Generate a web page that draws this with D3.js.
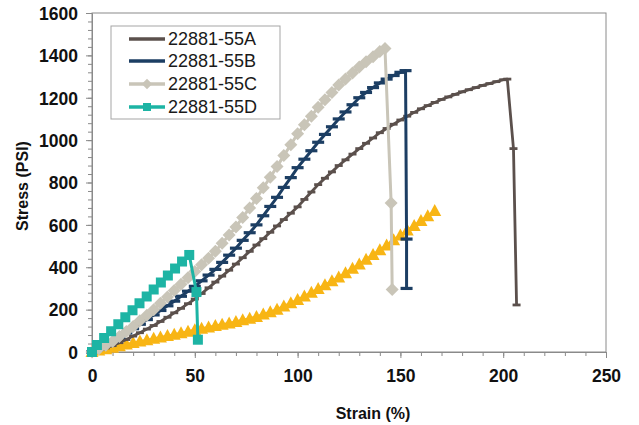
<!DOCTYPE html>
<html><head><meta charset="utf-8">
<script src="https://cdn.jsdelivr.net/npm/d3@7"></script>
<style>body{margin:0;background:#fff}svg{display:block}</style>
</head><body>
<svg id="chart" width="639" height="425"></svg>
<script>
// ---------- data ----------
const seriesNames = ["22881-55A", "22881-55B", "22881-55C", "22881-55D"];
const xTickLabels = [0, 50, 100, 150, 200, 250];
const yTickLabels = [0, 200, 400, 600, 800, 1000, 1200, 1400, 1600];

const strainGrid = [0,3.3,6.7,10,13.3,16.7,20,23.3,26.7,30,33.3,36.7,40,43.3,46.7,50,53.3,56.7,60,63.3,66.7,70,73.3,76.7,80,83.3,86.7,90,93.3,96.7,100,103.3,106.7,110,113.3,116.7,120,123.3,126.7,130,133.3,136.7,140,143.3,146.7,150,153.3,156.7,160,163.3,166.7,170,173.3,176.7,180,183.3,186.7,190,193.3,196.7,200];

const stressA = [0,9,19,30,44,59,75,91,108,125,144,164,185,206,228,250,276,303,330,358,386,415,445,475,505,535,565,595,625,655,685,720,755,790,820,850,880,907,934,960,985,1010,1035,1055,1075,1095,1113,1131,1148,1163,1178,1192,1204,1216,1228,1238,1248,1258,1267,1276,1285];
const tailA = [[202,1288],[205,960],[206.5,222]];

const stressB = [0,15,32,50,70,90,110,131,153,175,196,218,240,263,287,310,336,363,390,423,457,490,527,563,600,643,687,730,777,823,870,910,950,990,1027,1063,1100,1133,1167,1200,1225,1248,1270,1288,1305,1320];
const tailB = [[152.5,1328],[153,533],[153,300]];

const stressC = [0,15,32,50,73,97,120,147,173,200,230,260,290,320,350,380,412,443,475,513,552,590,635,680,725,775,825,875,927,978,1030,1072,1113,1155,1190,1225,1260,1288,1317,1345,1370,1394,1418];
const tailC = [[142.5,1432],[145.5,703],[146,295]];

const strainD = [0,2.4,5.9,9.3,12.8,16.2,19.7,23.1,26.6,30,33.5,36.9,40.4,43.8,47.3,50.8,51.5];
const stressD = [0,33,66,98,131,164,197,230,262,295,328,361,394,427,458,283,58];

const stressE = [0,7,13,20,27,35,42,49,55,62,69,75,82,89,96,103,110,116,123,129,135,142,150,157,165,177,188,200,215,230,245,262,280,297,315,334,352,372,393,413,435,458,480,503,527,550,573,595,618,641,665];

// ---------- build ----------
const x = d3.scaleLinear().domain([0, 250]).range([92, 606]);
const y = d3.scaleLinear().domain([0, 1600]).range([352, 13]);
const svg = d3.select("#chart");
const FONT = "Liberation Sans, Arial, Helvetica, sans-serif";

const fromGrid = (vals, tail) => vals.map((v, i) => [strainGrid[i], v]).concat(tail || []);
const series = [
  {name: null, pts: fromGrid(stressE), color: "#f8b514", w: 3, mk: "tri"},
  {name: seriesNames[0], pts: fromGrid(stressA, tailA), color: "#5b504c", w: 2.8, mk: "dashS"},
  {name: seriesNames[1], pts: fromGrid(stressB, tailB), color: "#1c3e63", w: 3, mk: "dashL"},
  {name: seriesNames[2], pts: fromGrid(stressC, tailC), color: "#c9c5b8", w: 3, mk: "diamond"},
  {name: seriesNames[3], pts: strainD.map((s, i) => [s, stressD[i]]), color: "#1db4a4", w: 3, mk: "square"}
];

const markerPath = {
  tri: "M0,-7L6.5,5L-6.5,5Z",
  dashS: "M-4,-1.4H4V1.4H-4Z",
  dashL: "M-6,-1.6H6V1.6H-6Z",
  diamond: "M0,-6.5L6.5,0L0,6.5L-6.5,0Z",
  square: "M-5,-5H5V5H-5Z"
};

// plot frame
svg.append("rect").attr("x", x(0)).attr("y", y(1600))
  .attr("width", x(250) - x(0)).attr("height", y(0) - y(1600))
  .attr("fill", "none").attr("stroke", "#8a8a8a").attr("stroke-width", 1);

// axes
const yMinor = d3.axisLeft(y).tickValues(d3.range(0, 1601, 40)).tickSize(4).tickFormat("");
svg.append("g").attr("transform", `translate(${x(0)},0)`).call(yMinor)
  .call(g => { g.selectAll("line").attr("stroke", "#8a8a8a"); g.select(".domain").attr("stroke", "#8a8a8a"); });
const yAxis = d3.axisLeft(y).tickValues(yTickLabels).tickSize(6).tickPadding(8).tickFormat(d3.format("d"));
svg.append("g").attr("transform", `translate(${x(0)},0)`).call(yAxis)
  .call(g => {
    g.select(".domain").remove();
    g.selectAll("line").attr("stroke", "#8a8a8a");
    g.selectAll("text").attr("font-family", FONT)
      .attr("font-weight", "bold").attr("font-size", 17.5).attr("fill", "#111").attr("dy", "0.36em");
  });

const xMinor = d3.axisBottom(x).tickValues(d3.range(0, 251, 10)).tickSize(4).tickFormat("");
svg.append("g").attr("transform", `translate(0,${y(0)})`).call(xMinor)
  .call(g => { g.selectAll("line").attr("stroke", "#8a8a8a"); g.select(".domain").attr("stroke", "#8a8a8a"); });
const xAxis = d3.axisBottom(x).tickValues(xTickLabels).tickSize(6).tickPadding(12).tickFormat(d3.format("d"));
svg.append("g").attr("transform", `translate(0,${y(0)})`).call(xAxis)
  .call(g => {
    g.select(".domain").remove();
    g.selectAll("line").attr("stroke", "#8a8a8a");
    g.selectAll("text").attr("font-family", FONT)
      .attr("font-weight", "bold").attr("font-size", 17.5).attr("fill", "#111");
  });

// axis titles
svg.append("text").attr("x", 373).attr("y", 419).attr("text-anchor", "middle")
  .attr("font-family", FONT).attr("font-weight", "bold")
  .attr("font-size", 16).attr("fill", "#111").text("Strain (%)");
svg.append("text").attr("transform", "translate(28,186) rotate(-90)").attr("text-anchor", "middle")
  .attr("font-family", FONT).attr("font-weight", "bold")
  .attr("font-size", 16).attr("fill", "#111").text("Stress (PSI)");

// series
const line = d3.line().x(d => x(d[0])).y(d => y(d[1]));
series.forEach(s => {
  const g = svg.append("g");
  g.append("path").attr("d", line(s.pts)).attr("fill", "none")
    .attr("stroke", s.color).attr("stroke-width", s.w).attr("stroke-linejoin", "round");
  g.selectAll("path.m").data(s.pts).join("path").attr("class", "m")
    .attr("d", markerPath[s.mk]).attr("fill", s.color)
    .attr("transform", d => `translate(${x(d[0])},${y(d[1])})`);
});

// legend
const lg = svg.append("g");
lg.append("rect").attr("x", 111).attr("y", 26).attr("width", 169).attr("height", 93)
  .attr("fill", "#fff").attr("stroke", "#a5a5a5").attr("stroke-width", 1);
const legendRows = [39, 61, 84, 107];
series.slice(1).forEach((s, i) => {
  const yy = legendRows[i];
  lg.append("line").attr("x1", 129).attr("x2", 165).attr("y1", yy).attr("y2", yy)
    .attr("stroke", s.color).attr("stroke-width", 3.5);
  if (s.mk === "diamond" || s.mk === "square")
    lg.append("path").attr("d", markerPath[s.mk]).attr("fill", s.color)
      .attr("transform", `translate(147,${yy}) scale(0.8)`);
  lg.append("text").attr("x", 168).attr("y", yy).attr("dy", "0.36em")
    .attr("font-family", FONT).attr("font-size", 18)
    .attr("fill", "#1a1a1a").text(s.name);
});
</script>
</body></html>
